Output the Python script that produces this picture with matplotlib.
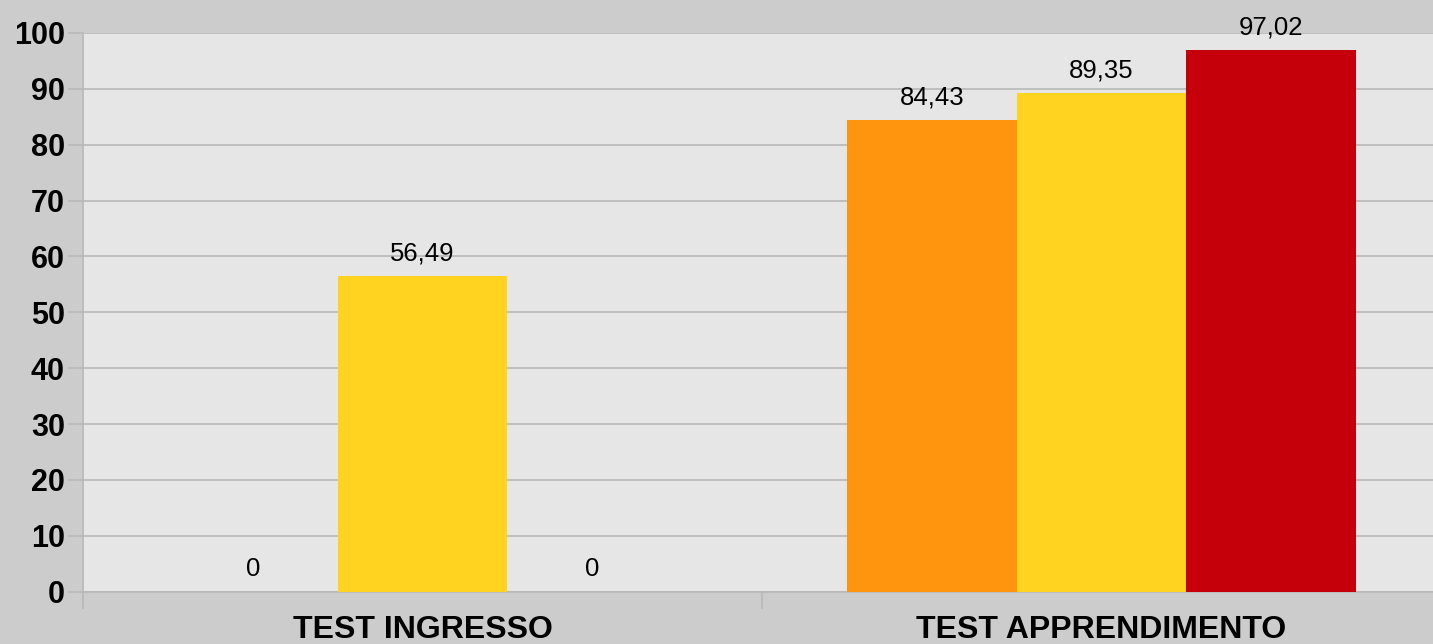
import matplotlib
matplotlib.use("Agg")
import matplotlib.pyplot as plt
import numpy as np

# data
categories = ["TEST INGRESSO", "TEST APPRENDIMENTO"]
serie_1 = [0, 84.43]
serie_2 = [56.49, 89.35]
serie_3 = [0, 97.02]
colori = ["#ff950e", "#ffd320", "#c5000b"]
y_ticks = list(range(0, 101, 10))

plt.rcParams['font.family'] = ['Liberation Sans', 'DejaVu Sans']

fig = plt.figure(figsize=(14.33, 6.44), dpi=100, facecolor="#cccccc")
# plot area runs a little past the right edge, like the original
ax = fig.add_axes([83 / 1433, 52.3 / 644, (1441 - 83) / 1433, 558.7 / 644])
ax.set_facecolor("#e6e6e6")

x = np.arange(len(categories))
larghezza = 0.25
for i, (serie, colore) in enumerate(zip([serie_1, serie_2, serie_3], colori)):
    pos = x + (i - 1) * larghezza
    ax.bar(pos, serie, larghezza, color=colore, zorder=3)
    for xx, val in zip(pos, serie):
        testo = "0" if val == 0 else f"{val:.2f}".replace(".", ",")
        ax.annotate(testo, (xx, val), xytext=(0, 7.5), textcoords="offset points",
                    ha="center", va="bottom", fontsize=18.5, color="black")

ax.set_xlim(-0.5, 1.5)
ax.set_ylim(0, 100)
ax.set_yticks(y_ticks)
ax.set_yticklabels([str(t) for t in y_ticks], fontsize=22, fontweight="bold")
ax.yaxis.grid(True, color="#b8b8b8", linewidth=1.2, zorder=0)
ax.tick_params(axis="y", length=11, color="#b8b8b8", width=1.2, pad=2)

# category labels at the group centres, tick marks on the boundaries
ax.set_xticks([-0.5, 0.5, 1.5])
ax.set_xticklabels([])
ax.set_xticks(x, minor=True)
ax.set_xticklabels(categories, minor=True, fontsize=23, fontweight="bold")
ax.tick_params(axis="x", which="major", length=12, color="#b8b8b8", width=1.2, direction="out")
ax.tick_params(axis="x", which="minor", length=0, pad=17)

for lato in ["top", "right"]:
    ax.spines[lato].set_visible(False)
ax.spines["left"].set_color("#b8b8b8")
ax.spines["bottom"].set_color("#b8b8b8")
ax.spines["left"].set_linewidth(1.2)
ax.spines["bottom"].set_linewidth(1.2)

fig.savefig("out.png", dpi=100, facecolor=fig.get_facecolor())
